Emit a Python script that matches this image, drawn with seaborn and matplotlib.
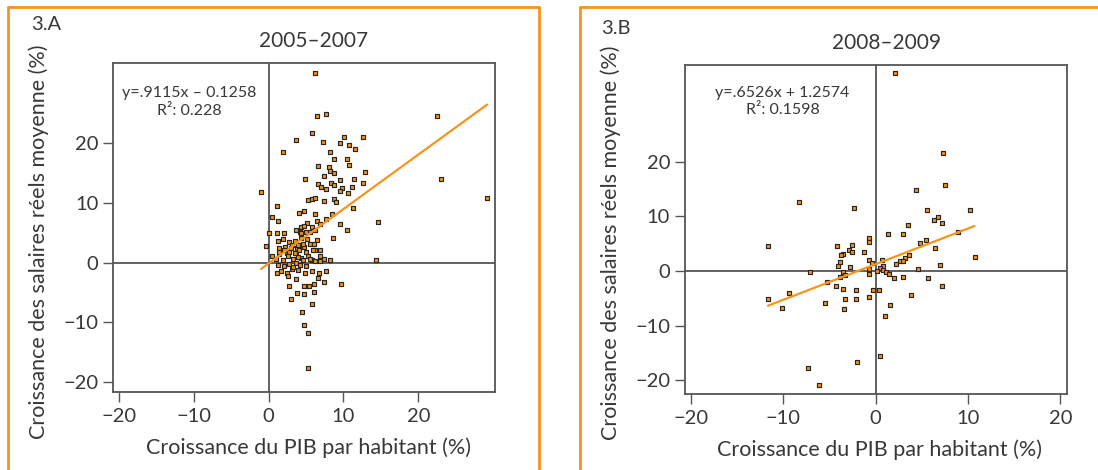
import matplotlib
matplotlib.use("Agg")
import matplotlib.pyplot as plt
from matplotlib.lines import Line2D
import seaborn as sns
import pandas as pd
import numpy as np

# ---------------- data ----------------
panel_labels = ["3.A", "3.B"]
titles = ["2005–2007", "2008–2009"]
xlabel = "Croissance du PIB par habitant (%)"
ylabel = "Croissance des salaires réels moyenne (%)"
equations = ["y=.9115x – 0.1258", "y=.6526x + 1.2574"]
r2_labels = ["R²: 0.228", "R²: 0.1598"]
slopes = [0.9115, 0.6526]
intercepts = [-0.1258, 1.2574]
tick_values = [-20, -10, 0, 10, 20]

xa = [6.14, 6.4, 7.6, 22.5, 5.85, 3.6, 7.3, 10.1, 12.55, 9.55, 10.7, 11.6, 1.97, 8.2, 8.67,
      10.5, 6.6, 8.06, 10.8, 8.24, 8.7, 12.9, 7.45, 4.9, 11.4, 23.0, 9.6, 12.6, 8.4, 6.65,
      8.67, 7.0, 7.6, 9.8, 11.2, 9.6, 10.6, -1.0, 5.3, 5.76, 6.2, 7.45, 8.67, 8.99, 29.2,
      1.12, 11.3, 4.07, 4.68, 6.2, 8.5, 0.47, 7.7, 1.26, 6.4, 14.6, 5.06, 6.84, 9.5, 4.3,
      4.68, 5.8, 10.5, 0.0, 1.12, 2.1, 3.6, 4.2, 5.5, 8.6, -0.42, 1.26, 1.9, 2.76, 3.5,
      4.36, 5.15, 6.4, 3.14, 4.5, 5.5, 6.1, 1.45, 2.2, 3.8, 4.7, 6.2, 6.84, 0.47, 1.36,
      2.5, 3.7, 5.3, 6.9, 7.45, 8.2, 14.3, 0.98, 1.87, 3.2, 4.3, 5.85, 6.9, 1.26, 2.06,
      2.67, 3.7, 5.0, 1.08, 1.6, 2.44, 3.14, 3.9, 4.87, 5.85, 6.7, 7.7, 2.53, 6.56, 3.6,
      7.4, 6.04, 9.7, 2.76, 4.68, 5.4, 3.8, 4.68, 6.04, 3.04, 5.8, 4.4, 4.68, 5.3, 5.25,
      4.3, 5.0, 6.2, 3.0, 3.9, 4.6, 1.4, 2.0, 2.7, 3.5, 4.1, 5.0, 5.9, 2.6, 3.9, 4.6,
      5.5, 6.15, 3.3, 4.2]
ya = [31.7, 24.6, 24.9, 24.5, 21.7, 20.5, 20.3, 21.0, 21.1, 20.0, 19.7, 19.1, 18.5, 18.6, 17.3,
      17.4, 16.2, 16.1, 16.3, 15.4, 15.0, 15.2, 14.6, 14.1, 14.1, 14.1, 13.9, 13.4, 13.4, 13.1,
      13.0, 12.6, 12.3, 12.5, 12.7, 12.0, 11.6, 11.8, 10.5, 10.6, 10.9, 10.3, 10.6, 10.1, 10.9,
      9.5, 9.1, 8.4, 8.6, 8.2, 8.2, 7.7, 7.4, 6.9, 7.0, 6.8, 6.6, 6.4, 6.4, 6.0,
      6.1, 5.9, 5.4, 5.0, 5.0, 5.0, 5.4, 5.1, 5.2, 4.2, 2.8, 3.7, 3.9, 3.5, 3.7,
      4.1, 3.9, 3.8, 3.0, 3.0, 3.2, 3.1, 2.4, 2.6, 2.4, 2.6, 2.2, 2.2, 1.1, 1.5,
      1.6, 1.6, 1.1, 1.1, 0.7, 0.4, 0.4, 0.6, 0.45, 0.6, 0.8, 0.4, 0.2, -0.4, -0.5,
      -0.3, -0.1, -0.6, -1.7, -1.4, -1.7, -1.0, -1.3, -1.8, -1.45, -1.8, -1.45, -2.2, -2.5, -2.8,
      -3.2, -3.5, -3.5, -3.9, -3.9, -3.9, -5.1, -5.3, -4.9, -6.0, -7.0, -8.3, -10.5, -11.7, -17.7,
      4.9, 5.2, 5.5, 2.5, 3.0, 3.1, 1.8, 2.1, 1.8, 1.7, 2.1, 1.8, 2.1, 1.1, 1.0, 0.45,
      0.7, 0.3, -0.8, -0.4]

xb = [2.05, 7.25, 7.5, 4.36, -8.3, -2.3, 5.6, 10.2, 6.34, 6.7, 7.17, 3.53, 8.9, 1.37, 2.92,
      -0.68, -0.68, 5.43, 4.8, -11.6, -4.2, -2.6, 6.38, -2.9, -2.6, -3.57, -3.8, -1.25, 3.6,
      3.2, 10.7, 2.6, 3.0, -0.76, 0.65, -3.9, 2.2, 6.95, -4.06, -0.38, 0.8, -2.8, 0.42, 4.6,
      -0.68, 0.1, 0.8, 1.1, -7.06, -3.5, -3.34, 1.4, -0.68, -3.9, 3.0, 5.65, 1.97, -5.24,
      -4.25, 7.17, -3.5, -2.1, -0.3, 0.34, -9.4, 3.83, -0.68, -11.65, -3.3, -2.1, -5.46, 1.6,
      -10.1, -3.4, 1.0, 0.46, -2.05, -7.36, -6.15]
yb = [36.3, 21.6, 15.7, 14.8, 12.6, 11.6, 11.1, 11.2, 9.3, 9.8, 8.8, 8.5, 7.1, 6.7, 6.7,
      6.0, 5.3, 5.6, 5.1, 4.5, 4.5, 4.7, 4.2, 3.8, 3.4, 3.2, 2.9, 3.4, 2.9,
      2.4, 2.6, 1.8, 1.8, 2.0, 2.1, 1.6, 1.2, 1.1, 1.0, 1.4, 1.0, 0.7, 0.5, 0.4,
      0.3, 0.0, 0.2, -0.1, -0.1, -0.2, -0.7, -0.5, -0.6, -1.0, -1.0, -1.2, -1.3, -2.0,
      -2.7, -2.7, -3.3, -3.4, -3.5, -3.5, -4.1, -4.3, -4.8, -5.2, -5.1, -5.2, -5.9, -6.2,
      -6.8, -7.0, -8.2, -15.5, -16.6, -17.7, -20.9]

# ---------------- style ----------------
sns.set_theme(style="white")
plt.rcParams["font.family"] = ["Lato", "DejaVu Sans"]
TXT = "#383838"
ORANGE = "#F7941D"
AXC = "#555555"

W, H = 1098, 470
fig = plt.figure(figsize=(W / 100, H / 100), dpi=100)

def fx(px):
    return px / W

def fy(py):
    return 1 - py / H

# axes rectangles in pixels: left, top, right, bottom
boxes = [(113, 62.7, 495, 392), (684.8, 65, 1067.1, 394)]
xlims = [(-20.8, 30.25), (-20.65, 20.72)]
ylims = [(-21.66, 33.5), (-22.5, 37.7)]
data = [pd.DataFrame({"x": xa, "y": ya}), pd.DataFrame({"x": xb, "y": yb})]

# text positions in pixels
lab_pos = [(31, 25), (601, 28)]
title_pos = [(314, 41), (886.5, 43)]
eq_pos = [(189, 93), (782, 93.5)]
r2_pos = [(189, 111), (783, 110)]
xl_pos = [(308.7, 447.7), (879.5, 450)]
yl_pos = [(38.6, 241.7), (611, 242.5)]

for i in range(2):
    l, t, r, b = boxes[i]
    ax = fig.add_axes([fx(l), fy(b), (r - l) / W, (b - t) / H])
    ax.axhline(0, color=AXC, lw=1.3, zorder=1)
    ax.axvline(0, color=AXC, lw=1.3, zorder=1)
    d = data[i]
    sns.scatterplot(data=d, x="x", y="y", ax=ax, marker="s", s=9, color=ORANGE,
                    edgecolor="#262626", linewidth=0.85, zorder=3, legend=False)
    xs = np.array([d["x"].min(), d["x"].max()])
    line_df = pd.DataFrame({"x": xs, "y": slopes[i] * xs + intercepts[i]})
    sns.lineplot(data=line_df, x="x", y="y", ax=ax, color=ORANGE, lw=1.6, zorder=4)
    ax.set_xlim(*xlims[i])
    ax.set_ylim(*ylims[i])
    ax.set_xticks(tick_values)
    ax.set_yticks(tick_values)
    ax.set_xlabel("")
    ax.set_ylabel("")
    for s in ax.spines.values():
        s.set_color(AXC)
        s.set_linewidth(1.3)
        s.set_visible(True)
    ax.tick_params(axis="both", which="both", direction="out", length=7.5, width=1.0,
                   color=AXC, labelcolor=TXT, labelsize=14.5, bottom=True, left=True,
                   top=False, right=False)
    ax.tick_params(axis="x", pad=4)
    ax.tick_params(axis="y", pad=3)

    fig.text(fx(lab_pos[i][0]), fy(lab_pos[i][1]), panel_labels[i], ha="left", va="center",
             fontsize=14.5, color=TXT)
    fig.text(fx(title_pos[i][0]), fy(title_pos[i][1]), titles[i], ha="center", va="center",
             fontsize=15, color=TXT)
    fig.text(fx(eq_pos[i][0]), fy(eq_pos[i][1]), equations[i], ha="center", va="center",
             fontsize=11.5, color=TXT)
    fig.text(fx(r2_pos[i][0]), fy(r2_pos[i][1]), r2_labels[i], ha="center", va="center",
             fontsize=11.5, color=TXT)
    fig.text(fx(xl_pos[i][0]), fy(xl_pos[i][1]), xlabel, ha="center", va="center",
             fontsize=15.5, color=TXT)
    fig.text(fx(yl_pos[i][0]), fy(yl_pos[i][1]), ylabel, ha="center", va="center",
             rotation=90, fontsize=15.5, color=TXT)

# orange frames
fw = 2.0
fig.add_artist(Line2D([fx(8.4), fx(8.4)], [fy(6.7), fy(480)], color=ORANGE, lw=fw))
fig.add_artist(Line2D([fx(8.4), fx(539)], [fy(6.7), fy(6.7)], color=ORANGE, lw=fw))
fig.add_artist(Line2D([fx(539), fx(539)], [fy(6.7), fy(480)], color=ORANGE, lw=fw))
fig.add_artist(Line2D([fx(579.6), fx(579.6)], [fy(6.7), fy(480)], color=ORANGE, lw=fw))
fig.add_artist(Line2D([fx(579.6), fx(1110)], [fy(6.7), fy(6.7)], color=ORANGE, lw=fw))

fig.savefig("out.png", dpi=100)
